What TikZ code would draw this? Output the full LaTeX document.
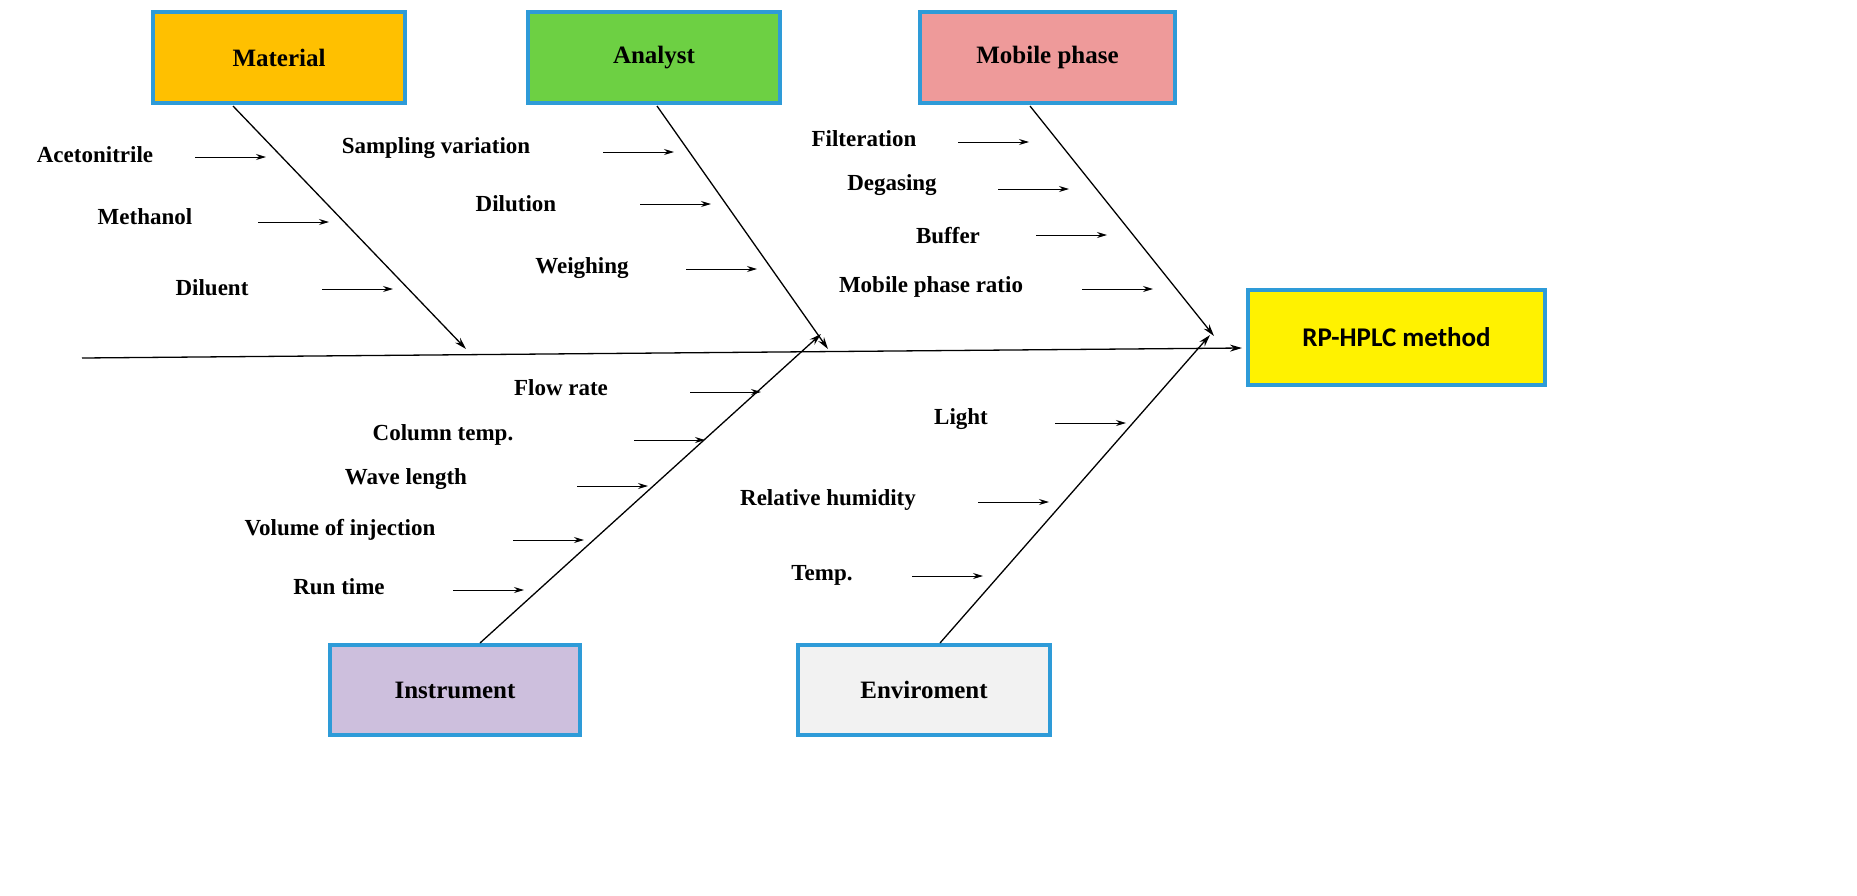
\documentclass[tikz,border=0pt]{standalone}
\usepackage{fontspec}
\setmainfont{Liberation Serif}
\newfontfamily\carl{Carlito}
\usetikzlibrary{arrows.meta}
\definecolor{bd}{HTML}{2E9BD8}
\begin{document}
\begin{tikzpicture}[x=0.5pt,y=-0.5pt,
 box/.style={draw=bd,line width=2pt,minimum width=#1/2,inner sep=0pt,font=\fontsize{12.5}{14}\selectfont\bfseries},
 lab/.style={font=\fontsize{11.5}{13}\selectfont\bfseries,inner sep=0pt},
 bone/.style={line width=0.65pt,-{Stealth[length=6pt,width=3.5pt]}},
 sm/.style={line width=0.5pt,-{Stealth[length=5pt,width=3pt]}}]
\useasboundingbox (0,0) rectangle (1857,895);
\node[box=252pt,minimum height=45.5pt,fill={rgb,255:red,255;green,192;blue,0}] (mat) at (279,57.5) {Material};
\node[box=252pt,minimum height=45.5pt,fill={rgb,255:red,109;green,208;blue,67}] (ana) at (654,57.5) {Analyst};
\node[box=255pt,minimum height=45.5pt,fill={rgb,255:red,238;green,154;blue,154}] (mob) at (1047.5,57.5) {Mobile phase};
\node[box=297pt,minimum height=47.5pt,fill=yellow,font=\fontsize{13.5}{15}\selectfont\bfseries\carl] (rp) at (1396.5,337.5) {RP-HPLC method};
\node[box=250pt,minimum height=45pt,fill={rgb,255:red,205;green,191;blue,221}] (ins) at (455,690) {Instrument};
\node[box=252pt,minimum height=45pt,fill={rgb,255:red,242;green,242;blue,242}] (env) at (924,690) {Enviroment};
\coordinate (s0) at (82,358);
\coordinate (s1) at (1242,348);
\draw[bone] (s0) -- (s1);
\coordinate (m0) at (233,106); \coordinate (m1) at (466,349);
\coordinate (a0) at (657,106); \coordinate (a1) at (828,349);
\coordinate (p0) at (1030,106); \coordinate (p1) at (1214,336);
\coordinate (i0) at (480,643); \coordinate (i1) at (821,334);
\coordinate (e0) at (940,643); \coordinate (e1) at (1210,335);
\draw[bone] (m0) -- (m1);
\draw[bone] (a0) -- (a1);
\draw[bone] (p0) -- (p1);
\draw[bone] (i0) -- (i1);
\draw[bone] (e0) -- (e1);
\foreach \n/\t/\px/\py/\ax/\ay in {
 l1/Acetonitrile/95/155/195/157,
 l2/Methanol/145/217/258/222,
 l3/Diluent/212/288/322/289,
 l4/Sampling variation/436/148/603/152,
 l5/Dilution/516/204/640/204,
 l6/Weighing/582/268/686/269,
 l7/Filteration/864/139/958/142,
 l8/Degasing/892/185/998/189,
 l9/Buffer/948/236/1036/235,
 l10/Mobile phase ratio/931/287/1082/289,
 l11/Flow rate/561/388/690/392,
 l12/Column temp./443/435/634/440,
 l13/Wave length/406/479/577/486,
 l14/Volume of injection/340/530/513/540,
 l15/Run time/339/587/453/590,
 l16/Light/961/419/1055/423,
 l17/Relative humidity/828/500/978/502,
 l18/Temp./822/575/912/576}{
 \node[lab] (\n) at (\px,\py) {\t};
 \coordinate (\n a) at (\ax,\ay);
 \coordinate (\n b) at (\ax+71,\ay);
 \draw[sm] (\n a) -- (\n b);
}
\end{tikzpicture}
\end{document}
